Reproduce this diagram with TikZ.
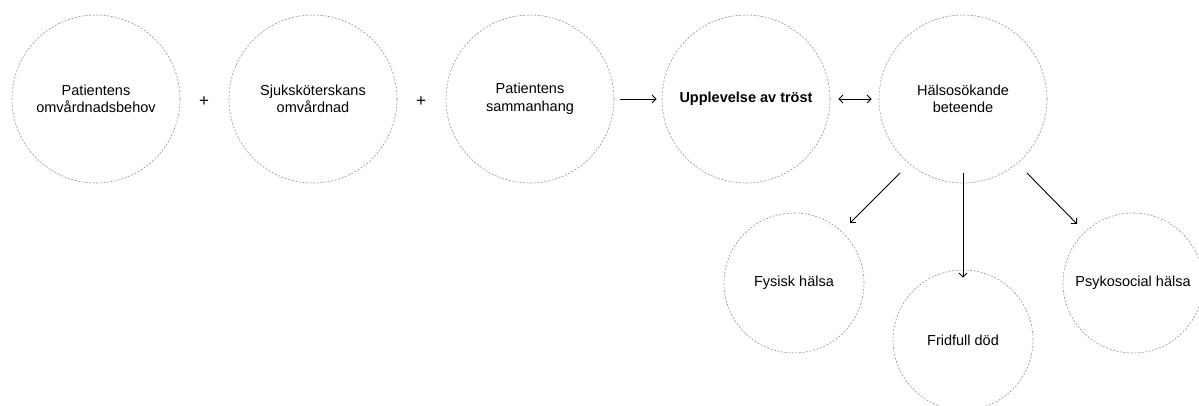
\documentclass[tikz,border=0pt]{standalone}
\usepackage{fontspec}
\setmainfont{Liberation Sans}
\usetikzlibrary{arrows.meta}
\begin{document}
\begin{tikzpicture}[x=1pt,y=-1pt]
  \useasboundingbox (0,0) rectangle (1199,405);
  \begin{scope}[every node/.style={circle,draw=gray!85,dash pattern=on 2pt off 1.6pt,line width=0.6pt,
      align=center,inner sep=0pt,font=\fontsize{14.5}{17.6}\selectfont}]
    \node[minimum size=168pt] (a) at (96,99) {Patientens\\omvårdnadsbehov};
    \node[minimum size=168pt] (b) at (313,99) {Sjuksköterskans\\omvårdnad};
    \node[minimum size=168pt] (c) at (530,99) {Patientens\\sammanhang};
    \node[minimum size=168pt] (d) at (746,99) {\textbf{Upplevelse av tröst}};
    \node[minimum size=168pt] (e) at (963,99) {Hälsosökande\\beteende};
    \node[minimum size=140pt] (f) at (794,283) {Fysisk hälsa};
    \node[minimum size=140pt] (g) at (963,340) {Fridfull död};
    \node[minimum size=140pt] (h) at (1133,283) {Psykosocial hälsa};
  \end{scope}
  \begin{scope}[every node/.style={font=\fontsize{17}{20}\selectfont}]
    \node (p1) at (204,102) {+};
    \node (p2) at (421,102) {+};
  \end{scope}
  \begin{scope}[every edge/.style={draw=black,line width=0.9pt,-{Straight Barb[length=4pt,width=8pt]}}]
    \path (c.east) ++(6,0) edge ([xshift=-5pt]d.west);
    \path ([xshift=8pt]d.east) edge[{Straight Barb[length=4pt,width=8pt]}-{Straight Barb[length=4pt,width=8pt]}] ([xshift=-7pt]e.west);
    \path (e) ++(-63,74) coordinate (e1);
    \path (e) ++(64,74) coordinate (e2);
    \path ([yshift=10pt]e.south) coordinate (e3);
    \path (f) ++(56,-60) coordinate (f1);
    \path (h) ++(-56,-59) coordinate (h1);
    \path (e1) edge (f1);
    \path (e3) edge ([yshift=-8pt]g.north);
    \path (e2) edge (h1);
  \end{scope}
\end{tikzpicture}
\end{document}
